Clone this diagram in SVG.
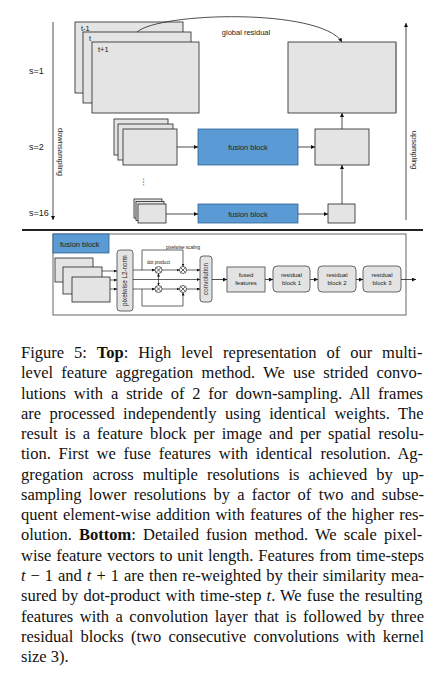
<svg xmlns="http://www.w3.org/2000/svg" width="441" height="685" viewBox="0 0 441 685">
<defs>
<marker id="ah" viewBox="0 0 6 6" refX="6" refY="3" markerWidth="4" markerHeight="4" orient="auto" markerUnits="userSpaceOnUse"><path d="M0,0 L6,3 L0,6 z" fill="#111"/></marker>
<marker id="ahs" viewBox="0 0 6 6" refX="6" refY="3" markerWidth="3" markerHeight="3" orient="auto" markerUnits="userSpaceOnUse"><path d="M0,0 L6,3 L0,6 z" fill="#111"/></marker>
</defs>
<style>
.fr{fill:#e4e4e4;stroke:#222;stroke-width:0.8}
.out{fill:#e4e4e4;stroke:#222;stroke-width:0.8}
.blue{fill:#5b9bd5;stroke:#2f5f8f;stroke-width:0.8}
.lbl{font-family:"Liberation Sans",Arial,sans-serif;fill:#222}
.c{stroke:#222;stroke-width:0.8;fill:none;marker-end:url(#ah)}
.cs{stroke:#222;stroke-width:0.7;fill:none;marker-end:url(#ahs)}
.ln{stroke:#222;stroke-width:0.7;fill:none}
.rb{fill:#e3e3e3;stroke:#444;stroke-width:0.8}
.cap{font-family:"Liberation Serif","Times New Roman",serif;font-size:16.5px;fill:#111}
.mul{fill:#fff;stroke:#222;stroke-width:0.7}
</style>

<g id="axes">
<line x1="53" y1="22" x2="53" y2="220" class="c"/>
<line x1="406" y1="220" x2="406" y2="23" class="c"/>
<text class="lbl" font-size="7.5" transform="translate(58,152) rotate(90)" text-anchor="middle">downsampling</text>
<text class="lbl" font-size="7.5" transform="translate(412,150) rotate(90)" text-anchor="middle">upsampling</text>
<text class="lbl" x="29" y="74" font-size="9">s=1</text>
<text class="lbl" x="29" y="150" font-size="9">s=2</text>
<text class="lbl" x="29" y="216" font-size="9">s=16</text>
</g>

<g id="frames-s1">
<rect class="fr" x="75" y="22" width="108" height="71"/>
<text class="lbl" x="81" y="31.2" font-size="7.5">t-1</text>
<rect class="fr" x="83" y="32" width="108" height="71"/>
<text class="lbl" x="89" y="41.2" font-size="7.5">t</text>
<rect class="fr" x="92" y="42" width="107" height="71"/>
<text class="lbl" x="98" y="52" font-size="7.5">t+1</text>
</g>

<g id="output-s1">
<rect class="out" x="288" y="42" width="108" height="71"/>
<line x1="396" y1="42.5" x2="396" y2="112.5" stroke="#888" stroke-width="1.6"/>
</g>

<g id="frames-s2">
<rect class="fr" x="114" y="119" width="54" height="36"/>
<rect class="fr" x="118" y="124" width="55" height="36"/>
<rect class="fr" x="123" y="129" width="54" height="36"/>
</g>
<g id="fusion-s2">
<rect class="blue" x="198" y="129" width="100" height="36"/>
<text class="lbl" x="248" y="150" font-size="7.5" text-anchor="middle">fusion block</text>
</g>
<g id="output-s2">
<rect class="out" x="315" y="129" width="54" height="36"/>
</g>
<text class="lbl" x="147" y="186" font-size="9" text-anchor="middle" transform="rotate(90,147,182)">…</text>

<g id="frames-s16">
<rect class="fr" x="134" y="199" width="28" height="19"/>
<rect class="fr" x="136" y="201.5" width="28" height="19"/>
<rect class="fr" x="138" y="204" width="28" height="19"/>
</g>
<g id="fusion-s16">
<rect class="blue" x="198" y="204" width="100" height="19"/>
<text class="lbl" x="248" y="216.5" font-size="7.5" text-anchor="middle">fusion block</text>
</g>
<g id="output-s16">
<rect class="out" x="328" y="204" width="27" height="19"/>
</g>

<g id="connectors-top">
<path class="c" d="M137,32 C160,12 320,8 342,42"/>
<text class="lbl" x="246" y="35" font-size="7.5" text-anchor="middle">global residual</text>
<line class="c" x1="177" y1="147" x2="198" y2="147"/>
<line class="c" x1="298" y1="147" x2="315" y2="147"/>
<line class="c" x1="342" y1="129" x2="342" y2="113"/>
<line class="c" x1="166" y1="214" x2="198" y2="214"/>
<line class="c" x1="298" y1="214" x2="328" y2="214"/>
<line class="c" x1="342" y1="204" x2="342" y2="165"/>
</g>

<line x1="22" y1="230" x2="423" y2="230" stroke="#222" stroke-width="2"/>

<g id="fusion-detail">
<rect x="53" y="234" width="353" height="81" fill="#fff" stroke="#666" stroke-width="1"/>
<rect class="blue" x="53" y="234" width="56" height="19"/>
<text class="lbl" x="60" y="247" font-size="7.5">fusion block</text>
</g>

<g id="frames-detail">
<rect class="fr" x="55" y="258" width="38" height="24"/>
<rect class="fr" x="63" y="267" width="39" height="27"/>
<rect class="fr" x="72" y="277" width="38" height="25"/>
</g>

<g id="l2norm">
<rect class="rb" x="117" y="250" width="16" height="61" rx="3"/>
<text class="lbl" font-size="6.3" transform="translate(127.3,280.5) rotate(-90)" text-anchor="middle">pixelwise L2-norm</text>
</g>

<g id="mults">
<g id="mul1"><circle class="mul" cx="158.5" cy="270" r="3.5"/><path class="ln" d="M156,267.5 L161,272.5 M161,267.5 L156,272.5"/></g>
<g id="mul2"><circle class="mul" cx="183" cy="270" r="3.5"/><path class="ln" d="M180.5,267.5 L185.5,272.5 M185.5,267.5 L180.5,272.5"/></g>
<g id="mul3"><circle class="mul" cx="158.5" cy="289" r="3.5"/><path class="ln" d="M156,286.5 L161,291.5 M161,286.5 L156,291.5"/></g>
<g id="mul4"><circle class="mul" cx="183" cy="289" r="3.5"/><path class="ln" d="M180.5,286.5 L185.5,291.5 M185.5,286.5 L180.5,291.5"/></g>
<text class="lbl" x="158.5" y="264" font-size="4.6" text-anchor="middle">dot product</text>
<text class="lbl" x="183" y="248.5" font-size="4.6" text-anchor="middle">pixelwise scaling</text>
</g>

<g id="convolution">
<rect class="rb" x="200" y="256" width="12" height="46" rx="3"/>
<text class="lbl" font-size="6.3" transform="translate(208.3,279) rotate(-90)" text-anchor="middle">convolution</text>
</g>

<g id="fused">
<rect class="rb" x="227" y="267" width="38" height="25"/>
<text class="lbl" x="246" y="277" font-size="6" text-anchor="middle">fused</text>
<text class="lbl" x="246" y="285" font-size="6" text-anchor="middle">features</text>
</g>
<g id="res1">
<rect class="rb" x="273" y="266" width="37" height="26" rx="4"/>
<text class="lbl" x="291.5" y="277" font-size="6" text-anchor="middle">residual</text>
<text class="lbl" x="291.5" y="285" font-size="6" text-anchor="middle">block 1</text>
</g>
<g id="res2">
<rect class="rb" x="318" y="266" width="38" height="26" rx="4"/>
<text class="lbl" x="337" y="277" font-size="6" text-anchor="middle">residual</text>
<text class="lbl" x="337" y="285" font-size="6" text-anchor="middle">block 2</text>
</g>
<g id="res3">
<rect class="rb" x="363" y="266" width="38" height="26" rx="4"/>
<text class="lbl" x="382" y="277" font-size="6" text-anchor="middle">residual</text>
<text class="lbl" x="382" y="285" font-size="6" text-anchor="middle">block 3</text>
</g>

<g id="connectors-bottom">
<line class="cs" x1="102" y1="271" x2="117" y2="271"/>
<line class="cs" x1="110" y1="280" x2="117" y2="280"/>
<line class="cs" x1="110" y1="289" x2="117" y2="289"/>
<line class="cs" x1="133" y1="270" x2="155" y2="270"/>
<path class="cs" d="M142,270 V250 H183 V266.5"/>
<line class="cs" x1="133" y1="279.5" x2="200" y2="279.5"/>
<line class="cs" x1="133" y1="289" x2="155" y2="289"/>
<path class="cs" d="M142,289 V306 H183 V292.5"/>
<line class="cs" x1="158.5" y1="279.5" x2="158.5" y2="273.5"/>
<line class="cs" x1="158.5" y1="279.5" x2="158.5" y2="285.5"/>
<line class="cs" x1="162" y1="270" x2="179.5" y2="270"/>
<line class="cs" x1="186.5" y1="270" x2="200" y2="270"/>
<line class="cs" x1="162" y1="289" x2="179.5" y2="289"/>
<line class="cs" x1="186.5" y1="289" x2="200" y2="289"/>
<line class="c" x1="212" y1="279.5" x2="227" y2="279.5"/>
<line class="c" x1="265" y1="279.5" x2="273" y2="279.5"/>
<line class="c" x1="310" y1="279.5" x2="318" y2="279.5"/>
<line class="c" x1="356" y1="279.5" x2="363" y2="279.5"/>
<line class="c" x1="401" y1="279.5" x2="416" y2="279.5"/>
</g>

<g id="caption">
<text class="cap" x="21" y="358" word-spacing="5.8">Figure 5: <tspan font-weight="bold">Top</tspan>: High level representation of our multi-</text>
<text class="cap" x="21" y="378.3" word-spacing="4.16">level feature aggregation method. We use strided convo-</text>
<text class="cap" x="21" y="398.5" word-spacing="3.73">lutions with a stride of 2 for down-sampling. All frames</text>
<text class="cap" x="21" y="418.8" word-spacing="4.31">are processed independently using identical weights. The</text>
<text class="cap" x="21" y="439.1" word-spacing="2.91">result is a feature block per image and per spatial resolu-</text>
<text class="cap" x="21" y="459.4" word-spacing="3.63">tion. First we fuse features with identical resolution. Ag-</text>
<text class="cap" x="21" y="479.6" word-spacing="5.0">gregation across multiple resolutions is achieved by up-</text>
<text class="cap" x="21" y="499.9" word-spacing="3.18">sampling lower resolutions by a factor of two and subse-</text>
<text class="cap" x="21" y="520.2" word-spacing="1.11">quent element-wise addition with features of the higher res-</text>
<text class="cap" x="21" y="540.4" word-spacing="3.04">olution. <tspan font-weight="bold">Bottom</tspan>: Detailed fusion method. We scale pixel-</text>
<text class="cap" x="21" y="560.7" word-spacing="0.83">wise feature vectors to unit length. Features from time-steps</text>
<text class="cap" x="21" y="581" word-spacing="0.84"><tspan font-style="italic">t</tspan> − 1 and <tspan font-style="italic">t</tspan> + 1 are then re-weighted by their similarity mea-</text>
<text class="cap" x="21" y="601.2" word-spacing="0.99">sured by dot-product with time-step <tspan font-style="italic">t</tspan>. We fuse the resulting</text>
<text class="cap" x="21" y="621.5" word-spacing="2.37">features with a convolution layer that is followed by three</text>
<text class="cap" x="21" y="641.8" word-spacing="3.17">residual blocks (two consecutive convolutions with kernel</text>
<text class="cap" x="21" y="662">size 3).</text>
</g>
</svg>
